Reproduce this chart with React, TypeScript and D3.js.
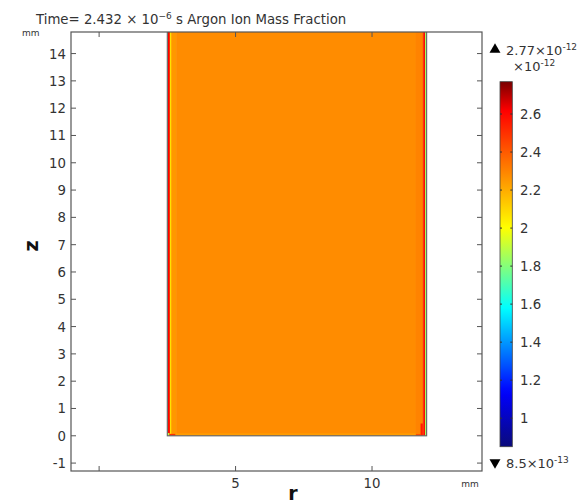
import React from "react";
import * as d3 from "d3";

// ---- data ----
const rDomain = [-1.03, 14.03];
const zDomain = [-1.29, 14.79];
const rTicks = [0, 5, 10];
const rTickLabels = ["", "5", "10"];
const zTicks = [-1, 0, 1, 2, 3, 4, 5, 6, 7, 8, 9, 10, 11, 12, 13, 14];
const domainR = [2.5, 12.0];
const domainZ = [0, 16];
// radial profile of the field (mm, value x1e-12)
const profileR = [2.5, 2.52, 2.59, 2.63, 2.67, 2.82, 11.6, 11.86, 11.89, 11.94];
const profileV = [1.9, 2.62, 2.05, 2.2, 2.25, 2.28, 2.3, 2.45, 2.62, 1.85];
// bottom corner patches: [r0, r1, z0, z1, value]
const cornerCells = [
  [2.52, 2.58, 0, 0.6, 2.6],
  [2.5, 2.58, 0, 0.1, 1.9],
  [2.58, 2.8, 0, 0.07, 2.5],
  [11.78, 11.86, 0, 0.45, 2.55],
  [11.6, 11.8, 0, 0.06, 2.45],
  [2.8, 11.6, 0.015, 0.09, 2.24],
];
const cbMin = 0.85;
const cbMax = 2.77;
const cbTicks = [1, 1.2, 1.4, 1.6, 1.8, 2, 2.2, 2.4, 2.6];
const cbTickLabels = ["1", "1.2", "1.4", "1.6", "1.8", "2", "2.2", "2.4", "2.6"];
const cmapStops = [0, 0.15, 0.38, 0.6, 0.92, 1];
const cmapColors = ["#0a0a7a", "#0000ff", "#00ffff", "#ffff00", "#ff0000", "#7a0000"];

const FONT = "DejaVu Sans, sans-serif";
const TXT = "#333";

export default function App() {
  const W = 588, H = 503;
  const x0 = 71, x1 = 482, y0 = 32, y1 = 471;
  const x = d3.scaleLinear().domain(rDomain).range([x0, x1]);
  const y = d3.scaleLinear().domain(zDomain).range([y1, y0]);
  const cmap = d3
    .scaleLinear<string>()
    .domain(cmapStops.map((s) => cbMin + s * (cbMax - cbMin)))
    .range(cmapColors)
    .interpolate(d3.interpolateRgb)
    .clamp(true);
  const cbY = d3.scaleLinear().domain([cbMin, cbMax]).range([446.7, 81.7]);
  const cbX0 = 500, cbX1 = 512.3;

  const cols = profileR.map((r, i) => {
    const rEnd = i < profileR.length - 1 ? profileR[i + 1] : domainR[1];
    return { r0: r, r1: rEnd, v: profileV[i] };
  });

  const gradStops = d3.range(0, 1.0001, 0.02);
  const tri = d3.symbol().type(d3.symbolTriangle).size(52)() || "";

  return (
    <svg width={W} height={H} style={{ position: "absolute", left: 0, top: 0, background: "#fff" }}>
      <defs>
        <clipPath id="plotclip">
          <rect x={x0} y={y0} width={x1 - x0} height={y1 - y0} />
        </clipPath>
        <linearGradient id="cbgrad" x1="0" y1="1" x2="0" y2="0">
          {gradStops.map((t, i) => (
            <stop key={i} offset={t} stopColor={cmap(cbMin + t * (cbMax - cbMin))} />
          ))}
        </linearGradient>
      </defs>
      <rect x={0} y={0} width={W} height={H} fill="#fff" />

      {/* title */}
      <text x={36} y={24} fontFamily={FONT} fontSize={13.3} fill={TXT}>
        Time= 2.432 × 10<tspan dy={-5} fontSize={9}>−6</tspan>
        <tspan dy={5}> s   Argon Ion Mass Fraction</tspan>
      </text>
      <text x={22} y={36} fontFamily={FONT} fontSize={9} fill={TXT}>mm</text>

      {/* field */}
      <g clipPath="url(#plotclip)">
        {cols.map((c, i) => (
          <rect
            key={i}
            x={x(c.r0)}
            y={y(domainZ[1])}
            width={x(c.r1) - x(c.r0) + 0.3}
            height={y(domainZ[0]) - y(domainZ[1])}
            fill={cmap(c.v)}
          />
        ))}
        {cornerCells.map((c, i) => (
          <rect
            key={"c" + i}
            x={x(c[0])}
            y={y(c[3])}
            width={x(c[1]) - x(c[0])}
            height={y(c[2]) - y(c[3])}
            fill={cmap(c[4])}
          />
        ))}
        <rect
          x={x(domainR[0])}
          y={y(domainZ[1])}
          width={x(domainR[1]) - x(domainR[0])}
          height={y(domainZ[0]) - y(domainZ[1])}
          fill="none"
          stroke="#6b6b6b"
          strokeWidth={1.2}
        />
      </g>

      {/* frame */}
      <rect x={x0} y={y0} width={x1 - x0} height={y1 - y0} fill="none" stroke="#555" strokeWidth={1.2} />
      {zTicks.map((t) => (
        <g key={"z" + t}>
          <line x1={x0} x2={x0 + 5} y1={y(t)} y2={y(t)} stroke="#555" />
          <line x1={x1} x2={x1 - 5} y1={y(t)} y2={y(t)} stroke="#555" />
          <text x={x0 - 5} y={y(t) + 5} textAnchor="end" fontFamily={FONT} fontSize={13.3} fill={TXT}>
            {t < 0 ? "-" + Math.abs(t) : t}
          </text>
        </g>
      ))}
      {rTicks.map((t, i) => (
        <g key={"r" + t}>
          <line x1={x(t)} x2={x(t)} y1={y1} y2={y1 - 5} stroke="#555" />
          <line x1={x(t)} x2={x(t)} y1={y0} y2={y0 + 5} stroke="#555" />
          <text x={x(t)} y={488} textAnchor="middle" fontFamily={FONT} fontSize={13.3} fill={TXT}>
            {rTickLabels[i]}
          </text>
        </g>
      ))}
      <text x={470} y={487} textAnchor="middle" fontFamily={FONT} fontSize={9} fill={TXT}>mm</text>
      <text x={293} y={500} textAnchor="middle" fontFamily={FONT} fontSize={19} fontWeight="bold" fill="#111">r</text>
      <text
        transform="translate(38,246) rotate(-90)"
        textAnchor="middle"
        fontFamily={FONT}
        fontSize={19}
        fontWeight="bold"
        fill="#111"
      >
        z
      </text>

      {/* colorbar */}
      <rect x={cbX0} y={cbY(cbMax)} width={cbX1 - cbX0} height={cbY(cbMin) - cbY(cbMax)} fill="url(#cbgrad)" stroke="#444" strokeWidth={0.8} />
      {cbTicks.map((t, i) => (
        <g key={"cb" + t}>
          <line x1={cbX1 - 2} x2={cbX1} y1={cbY(t)} y2={cbY(t)} stroke="#333" />
          <line x1={cbX0} x2={cbX0 + 2} y1={cbY(t)} y2={cbY(t)} stroke="#333" />
          <text x={520} y={cbY(t) + 5} fontFamily={FONT} fontSize={13.3} fill={TXT}>
            {cbTickLabels[i]}
          </text>
        </g>
      ))}
      <path d={tri} transform="translate(495,49.5)" fill="#000" />
      <text x={506} y={55} fontFamily={FONT} fontSize={13} fill={TXT}>
        2.77×10<tspan dy={-5} fontSize={9}>-12</tspan>
      </text>
      <text x={513} y={71} fontFamily={FONT} fontSize={13} fill={TXT}>
        ×10<tspan dy={-5} fontSize={9}>-12</tspan>
      </text>
      <path d={tri} transform="translate(495,462.5) rotate(180)" fill="#000" />
      <text x={506} y={468} fontFamily={FONT} fontSize={13} fill={TXT}>
        8.5×10<tspan dy={-5} fontSize={9}>-13</tspan>
      </text>
    </svg>
  );
}
